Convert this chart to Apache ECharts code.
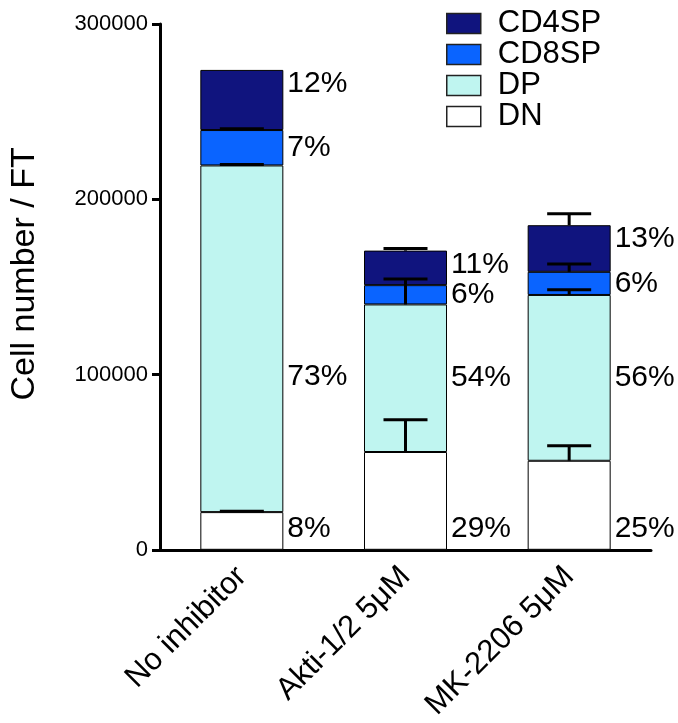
<!DOCTYPE html>
<html>
<head>
<meta charset="utf-8">
<script src="https://cdn.jsdelivr.net/npm/echarts@6/dist/echarts.min.js"></script>
<style>html,body{margin:0;padding:0;background:#fff;}#c{width:678px;height:723px;}</style>
</head>
<body>
<div id="c"></div>
<script>
// ---- data ----
var categories = ['No inhibitor', 'Akti-1/2 5\u03bcM', 'MK-2206 5\u03bcM'];
var dn  = [21500, 55800, 50800];
var dp  = [197800, 84200, 94600];
var cd8 = [20200, 11000, 13200];
var cd4 = [34300, 19700, 26600];
var dnErr  = [500, 18400, 8600];
var dpErr  = [500, 14500, 3000];
var cd8Err = [800, null, 4400];
var cd4Err = [null, 1200, 6600];
var dnPct  = ['8%', '29%', '25%'];
var dpPct  = ['73%', '54%', '56%'];
var cd8Pct = ['7%', '6%', '6%'];
var cd4Pct = ['12%', '11%', '13%'];
var yTicks = [0, 100000, 200000, 300000];

var FONT = 'Liberation Sans';
var colors = {DN: '#ffffff', DP: '#bff5f0', CD8SP: '#0a64ff', CD4SP: '#10147e'};

// cumulative tops
var layers = [dn, dp, cd8, cd4];
var tops = layers.map(function (arr, li) {
  return arr.map(function (v, i) {
    var s = 0;
    for (var k = 0; k <= li; k++) s += layers[k][i];
    return s;
  });
});
var errs = [dnErr, dpErr, cd8Err, cd4Err];
var errData = [];
errs.forEach(function (arr, li) {
  arr.forEach(function (e, i) {
    if (e !== null) errData.push([i, tops[li][i], tops[li][i] + e]);
  });
});

function makeBar(name, values, pcts, pos, vAlign, offset, special) {
  return {
    name: name,
    type: 'bar',
    stack: 'total',
    barWidth: 83,
    itemStyle: {color: colors[name], borderColor: '#000', borderWidth: 1},
    data: values.map(function (v, i) {
      var item = {value: v};
      var p = (special && special[i]) ? special[i] : pos;
      item.label = {
        show: true,
        position: p,
        formatter: pcts[i],
        align: 'left',
        verticalAlign: vAlign,
        offset: offset,
        fontFamily: FONT,
        fontSize: 30,
        color: '#000'
      };
      return item;
    }),
    emphasis: {disabled: true},
    z: 2
  };
}

var option = {
  animation: false,
  backgroundColor: '#fff',
  grid: {left: 150, right: 27, top: 24, bottom: 172, containLabel: false},
  legend: {
    orient: 'vertical',
    left: 441,
    top: 3,
    icon: 'rect',
    itemWidth: 34,
    itemHeight: 20,
    itemGap: 0,
    data: ['CD4SP', 'CD8SP', 'DP', 'DN'],
    itemStyle: {borderColor: '#222', borderWidth: 1.5},
    textStyle: {fontFamily: FONT, fontSize: 31, color: '#000', padding: [0, 0, 0, 12], lineHeight: 26},
    selectedMode: false
  },
  xAxis: {
    type: 'category',
    data: categories,
    axisLine: {lineStyle: {color: '#000', width: 3}},
    axisTick: {alignWithLabel: true, length: 8, lineStyle: {color: '#000', width: 3}},
    axisLabel: {rotate: 45, fontFamily: FONT, fontSize: 31, color: '#000', margin: 22, interval: 0}
  },
  yAxis: {
    type: 'value',
    min: 0, max: 300000, interval: 100000,
    name: 'Cell number / FT',
    nameLocation: 'middle',
    nameRotate: 90,
    nameGap: 118,
    nameTextStyle: {fontFamily: FONT, fontSize: 34, color: '#000', padding: [0, 0, 0, 26]},
    axisLine: {show: true, lineStyle: {color: '#000', width: 3}},
    axisTick: {show: true, length: 8, lineStyle: {color: '#000', width: 3}},
    splitLine: {show: false},
    axisLabel: {
      fontFamily: FONT, fontSize: 22, color: '#000', margin: 12,
      formatter: function (v) { return yTicks.indexOf(v) >= 0 ? String(v) : ''; }
    }
  },
  series: [
    makeBar('DN', dn, dnPct, ['100%', '100%'], 'bottom', [4, -6]),
    makeBar('DP', dp, dpPct, ['100%', '50%'], 'middle', [4, 0], [['100%', '61%'], null, null]),
    makeBar('CD8SP', cd8, cd8Pct, ['100%', '50%'], 'middle', [4, 0]),
    makeBar('CD4SP', cd4, cd4Pct, ['100%', '0%'], 'top', [4, -1]),
    {
      type: 'custom',
      name: 'err',
      data: errData,
      z: 5,
      silent: true,
      renderItem: function (params, api) {
        var x = api.value(0);
        var lo = api.coord([x, api.value(1)]);
        var hi = api.coord([x, api.value(2)]);
        var half = 22;
        return {
          type: 'group',
          children: [
            {type: 'line', shape: {x1: lo[0], y1: lo[1], x2: hi[0], y2: hi[1]}, style: {stroke: '#000', lineWidth: 3}},
            {type: 'line', shape: {x1: hi[0] - half, y1: hi[1], x2: hi[0] + half, y2: hi[1]}, style: {stroke: '#000', lineWidth: 3}}
          ]
        };
      }
    }
  ]
};

var chart = echarts.init(document.getElementById('c'), null, {renderer: 'canvas'});
chart.setOption(option);
</script>
</body>
</html>
